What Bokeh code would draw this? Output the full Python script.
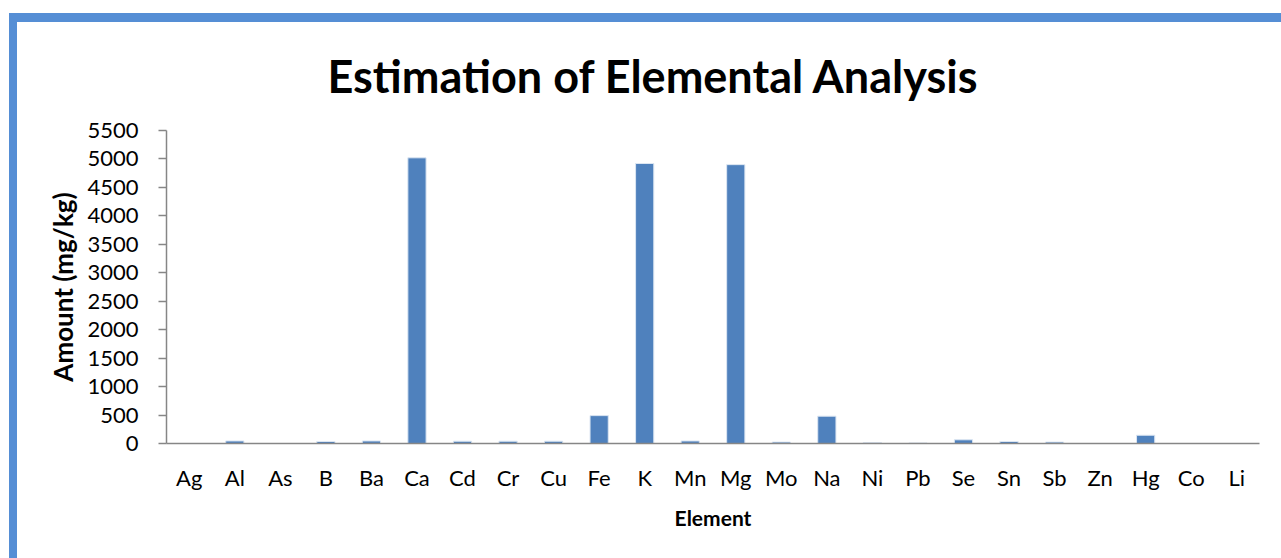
from bokeh.plotting import figure
from bokeh.models import FactorRange, Range1d, FixedTicker, ColumnDataSource
from bokeh.embed import file_html
from bokeh.resources import INLINE

elements = ["Ag", "Al", "As", "B", "Ba", "Ca", "Cd", "Cr", "Cu", "Fe", "K", "Mn",
            "Mg", "Mo", "Na", "Ni", "Pb", "Se", "Sn", "Sb", "Zn", "Hg", "Co", "Li"]
amounts = [0, 45, 0, 35, 45, 5020, 40, 40, 40, 490, 4920, 45,
           4900, 25, 480, 15, 10, 65, 35, 25, 0, 145, 0, 0]
y_ticks = [0, 500, 1000, 1500, 2000, 2500, 3000, 3500, 4000, 4500, 5000, 5500]

W, H = 1281, 558
FONT = "Lato"
BLUE = "#558ED5"

src = ColumnDataSource(dict(el=elements, amt=amounts))

p = figure(width=W, height=H, x_range=FactorRange(*elements),
           y_range=Range1d(0, 5500), output_backend="svg", toolbar_location=None,
           min_border_left=166, min_border_right=22, min_border_top=130,
           min_border_bottom=115, title="Estimation of Elemental Analysis")

p.vbar(x="el", top="amt", width=0.4, source=src, fill_color="#4F81BD",
       line_color="#DCE6F2", line_width=1)

p.title.align = "left"
p.title.offset = 161
p.title.text_font = FONT
p.title.text_font_size = "45px"
p.title.text_font_style = "bold"
p.title.text_color = "black"
p.title.standoff = 55

p.grid.visible = False
p.outline_line_color = None
p.background_fill_color = "white"
p.border_fill_color = None
p.styles = {
    "background-color": "white",
    "background-image": f"linear-gradient({BLUE},{BLUE}), linear-gradient({BLUE},{BLUE})",
    "background-position": "9px 13px, 9px 13px",
    "background-size": "8px 700px, 1400px 9px",
    "background-repeat": "no-repeat, no-repeat",
}

for ax in (p.xaxis[0], p.yaxis[0]):
    ax.axis_line_color = "#868686"
    ax.axis_line_width = 1.5
    ax.major_label_text_font = FONT
    ax.major_label_text_font_size = "22px"
    ax.major_label_text_color = "black"
    ax.axis_label_text_font = FONT
    ax.axis_label_text_font_style = "bold"
    ax.axis_label_text_color = "black"
    ax.minor_tick_line_color = None

p.xaxis.axis_label = "Element"
p.xaxis.axis_label_text_font_size = "21px"
p.xaxis.major_tick_line_color = None
p.xaxis.major_label_standoff = 14
p.xaxis.axis_label_standoff = 11

p.yaxis.axis_label = "Amount (mg/kg)"
p.yaxis.axis_label_text_font_size = "26px"
p.yaxis.ticker = FixedTicker(ticks=y_ticks)
p.yaxis.major_tick_line_color = "#868686"
p.yaxis.major_tick_line_width = 1.5
p.yaxis.major_tick_out = 8
p.yaxis.major_tick_in = 0
p.yaxis.major_label_standoff = 20
p.yaxis.axis_label_standoff = 5

open("out.html", "w").write(file_html(p, INLINE))
